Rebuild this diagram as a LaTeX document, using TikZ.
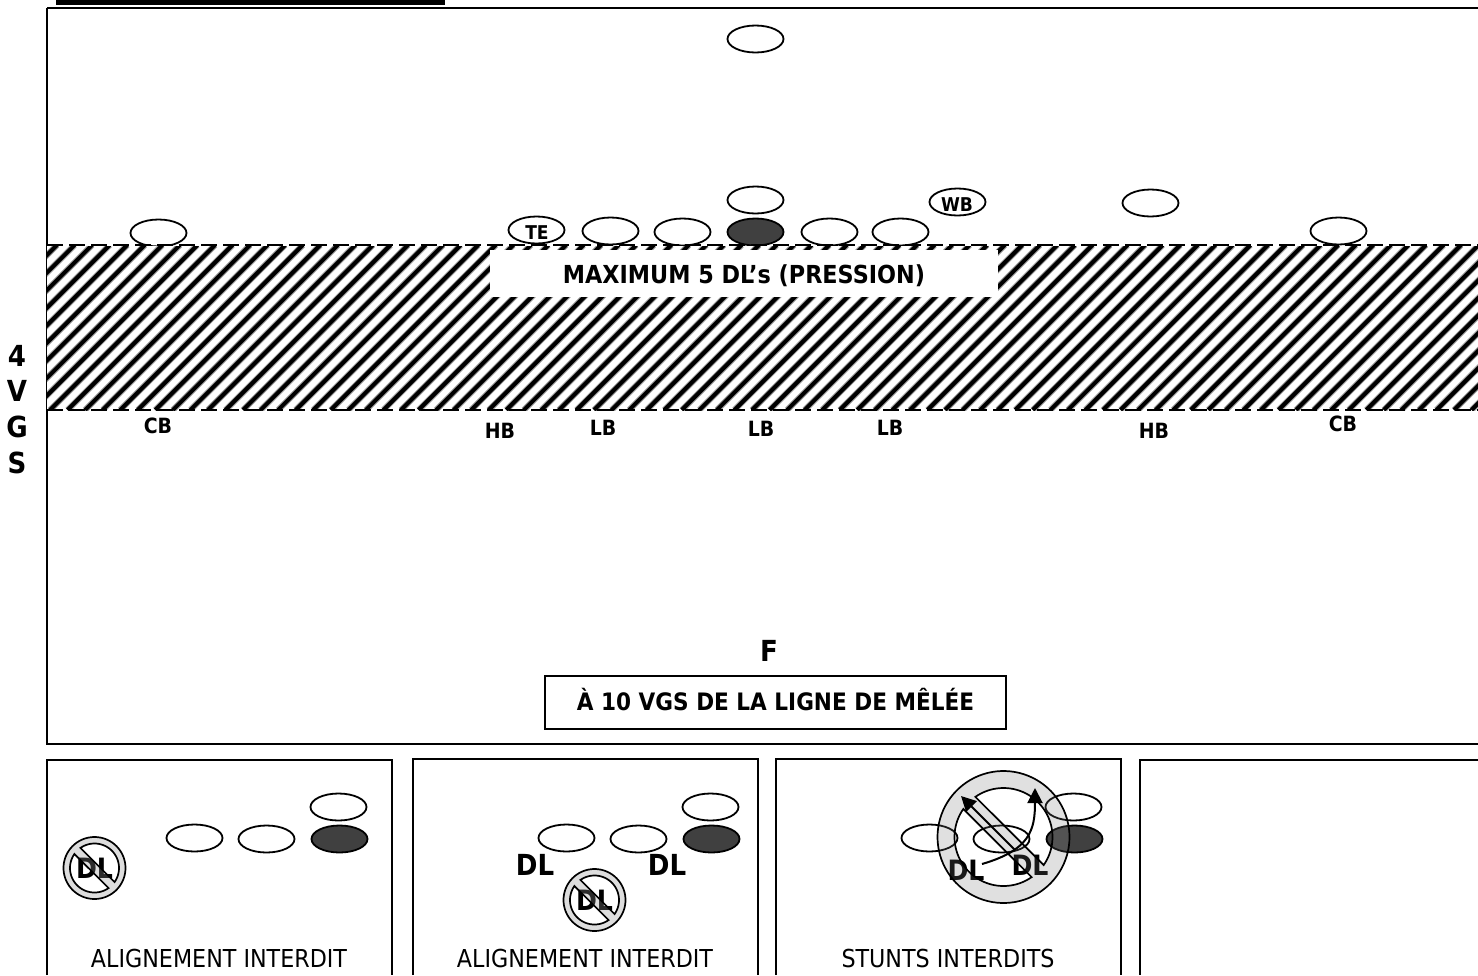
\documentclass[tikz,border=0pt]{standalone}
\usepackage{fontspec}
\setmainfont{DejaVu Sans}[FakeStretch=0.9]
\usetikzlibrary{arrows.meta,shapes.geometric}
\definecolor{darkfill}{HTML}{404040}
\definecolor{ringgrey}{HTML}{DDDDDD}
\tikzset{
 x=1pt,y=-1pt,
 player/.style={draw=black,line width=1.8pt,ellipse,fill=white,minimum width=56pt,minimum height=27pt,inner sep=0pt},
 dark/.style={player,fill=darkfill},
 hollow/.style={player,fill=none},
 lbl/.style={font=\bfseries\fontsize{19}{19}\selectfont,inner sep=0pt},
 under/.style={font=\bfseries\fontsize{21}{21}\selectfont,inner sep=0pt},
 big/.style={font=\bfseries\fontsize{28}{28}\selectfont,inner sep=0pt},
 huge/.style={font=\bfseries\fontsize{29}{29}\selectfont,inner sep=0pt},
 captxt/.style={font=\fontsize{24.7}{25}\selectfont,inner sep=0pt},
 frame/.style={draw=black,line width=2pt},
}
% centre x, centre y, outer radius, inner radius, half-angle offset of the bar, path options
\newcommand{\prohib}[6]{%
 \path[even odd rule,#6]
  plot[domain=0:1,samples=91] ({#1+#3*cos(360*\x)},{#2+#3*sin(360*\x)}) -- cycle
  plot[domain=0:1,samples=50] ({#1+#4*cos(-135+#5+(180-2*#5)*\x)},{#2+#4*sin(-135+#5+(180-2*#5)*\x)}) -- cycle
  plot[domain=0:1,samples=50] ({#1+#4*cos(45+#5+(180-2*#5)*\x)},{#2+#4*sin(45+#5+(180-2*#5)*\x)}) -- cycle;%
}
\begin{document}
\begin{tikzpicture}
\useasboundingbox (0,0) rectangle (1478,975);
\fill[black] (56,0) rectangle (445,5);
\draw[frame] (47,8) -- (1478,8) (47,8) -- (47,744) -- (1478,744);
% players above line
\node[player] (a) at (755.5,39) {};
\node[player] (b) at (755.5,200) {};
\node[player] (c) at (158.5,233) {};
\node[player] (d) at (1150.5,203) {};
\node[player] (e) at (1338.5,231) {};
\node[player] (te) at (536.5,230) {};
\node[player] (g1) at (610.5,231) {};
\node[player] (g2) at (682.5,232) {};
\node[dark] (ctr) at (755.5,232) {};
\node[player] (t1) at (829.5,232) {};
\node[player] (t2) at (900.5,232) {};
\node[player] (wb) at (957.5,202) {};
\node[lbl] (telbl) at (537,233) {TE};
\node[lbl] (wblbl) at (957,205) {WB};
% hatch
\begin{scope}
\clip (47,246) rectangle (1478,410);
\fill[white] (47,245) rectangle (1478,410);
\foreach \i in {0,1,...,90}{
 \draw[line width=6pt,black!40] ({50+\i*17.55-17.55*9},410) -- ++(165,-165);
 \draw[line width=4pt,black] ({50+\i*17.55-17.55*9},410) -- ++(165,-165);
}
\end{scope}
\draw[black,line width=1.6pt,dash pattern=on 16pt off 6pt] (47,245) -- (1478,245);
\draw[black,line width=1.6pt,dash pattern=on 16pt off 6pt] (47,410) -- (1478,410);
\fill[white] (490,250) rectangle (998,297);
\node[inner sep=0pt,font=\bfseries\fontsize{24.8}{25}\selectfont] (maxtxt) at (744,276) {MAXIMUM 5 DL’s (PRESSION)};
% labels under
\node[under] (cb1) at (158,426) {CB};
\node[under] (hb1) at (500,431) {HB};
\node[under] (lb1) at (603,428) {LB};
\node[under] (lb2) at (761,429) {LB};
\node[under] (lb3) at (890,428) {LB};
\node[under] (hb2) at (1154,431) {HB};
\node[under] (cb2) at (1343,424) {CB};
\node[huge] (v1) at (17,356) {4};
\node[huge] (v2) at (17,391) {V};
\node[huge] (v3) at (17,427) {G};
\node[huge] (v4) at (17,463) {S};
\node[huge] (f) at (769,651) {F};
\node[frame,minimum width=461pt,minimum height=53pt,inner sep=0pt] (ten) at (775.5,702) {};
\node[inner sep=0pt,font=\bfseries\fontsize{24}{24}\selectfont] (tentxt) at (775.5,700) {À 10 VGS DE LA LIGNE DE MÊLÉE};
% boxes
\draw[frame] (47,975) -- (47,760) -- (392,760) -- (392,975);
\draw[frame] (413,975) -- (413,759) -- (758,759) -- (758,975);
\draw[frame] (776,975) -- (776,759) -- (1121,759) -- (1121,975);
\draw[frame] (1478,760) -- (1140,760) -- (1140,975);
% box 1
\node[player] (p11) at (194.5,838) {};
\node[player] (p12) at (266.5,839) {};
\node[dark] (p13) at (339.5,839) {};
\node[player] (p14) at (338.5,807) {};
\node[captxt] (cap1) at (219,958) {ALIGNEMENT INTERDIT};
\prohib{94.5}{868}{31}{24.5}{10}{fill=ringgrey}
\node[big] (dl1) at (94.5,868) {DL};
\prohib{94.5}{868}{31}{24.5}{10}{draw=black,line width=1.7pt,fill=ringgrey,fill opacity=.2}
% box 2
\node[player] (p21) at (566.5,838) {};
\node[player] (p22) at (638.5,839) {};
\node[dark] (p23) at (711.5,839) {};
\node[player] (p24) at (710.5,807) {};
\node[huge] (dl2a) at (535,865) {DL};
\node[huge] (dl2b) at (667,865) {DL};
\node[captxt] (cap2) at (585,958) {ALIGNEMENT INTERDIT};
\prohib{594.5}{900}{31}{24.5}{10}{fill=ringgrey}
\node[big] (dl2) at (594.5,900) {DL};
\prohib{594.5}{900}{31}{24.5}{10}{draw=black,line width=1.7pt,fill=ringgrey,fill opacity=.2}
% box 3
\node[captxt] (cap3) at (948,958) {STUNTS INTERDITS};
\prohib{1003.5}{837}{66}{49}{10}{fill=ringgrey}
\node[hollow] (p31) at (929.5,838) {};
\node[hollow] (p32) at (1001.5,839) {};
\node[dark] (p33) at (1074.5,839) {};
\node[hollow] (p34) at (1073.5,807) {};
\node[big] (dl3a) at (966,870) {DL};
\node[big] (dl3b) at (1030,865) {DL};
\prohib{1003.5}{837}{66}{49}{10}{draw=black,line width=1.7pt,fill=white,fill opacity=.1}
\draw[-{Triangle[length=15pt,width=15pt]},line width=2pt] (1015,850) -- (961,796);
\draw[-{Triangle[length=15pt,width=15pt]},line width=2pt] (982,864) .. controls (1030,850) and (1035,830) .. (1035,788);
\end{tikzpicture}
\end{document}
